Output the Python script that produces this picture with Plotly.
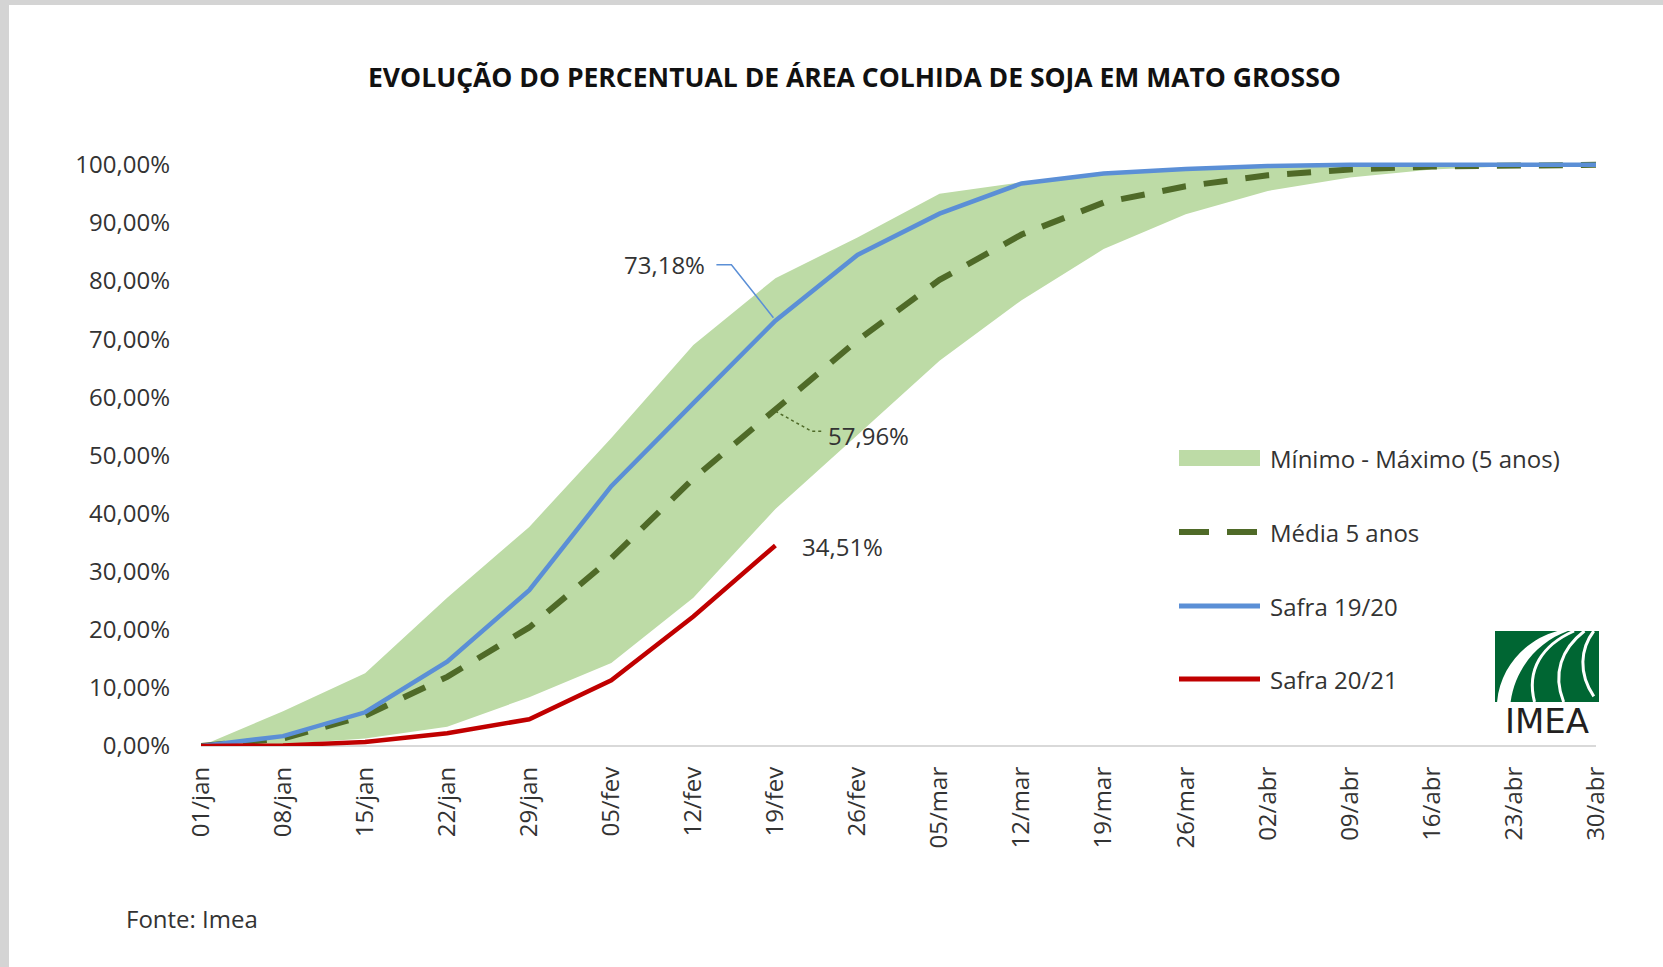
import plotly.graph_objects as go

# ---------------- data ----------------
categories = ["01/jan", "08/jan", "15/jan", "22/jan", "29/jan", "05/fev", "12/fev", "19/fev",
              "26/fev", "05/mar", "12/mar", "19/mar", "26/mar", "02/abr", "09/abr", "16/abr",
              "23/abr", "30/abr"]
minimo = [0, 0.3, 1.3, 3.3, 8.4, 14.3, 25.5, 40.8, 53.5, 66.3, 76.7, 85.5, 91.5, 95.5, 97.8, 99.2, 99.8, 100]
maximo = [0, 6.0, 12.5, 25.5, 37.7, 53.0, 69.0, 80.5, 87.5, 95.0, 97.0, 98.6, 99.5, 99.9, 100, 100, 100, 100]
media = [0, 1.3, 5.2, 11.9, 20.4, 32.3, 46.0, 57.96, 69.8, 80.2, 88.0, 93.5, 96.3, 98.2, 99.2, 99.7, 99.9, 100]
safra_1920 = [0, 1.7, 5.8, 14.5, 26.8, 44.7, 59.0, 73.18, 84.5, 91.6, 96.8, 98.5, 99.3, 99.8, 100, 100, 100, 100]
safra_2021 = [0, 0.1, 0.7, 2.2, 4.6, 11.3, 22.3, 34.51]
y_ticks = [0, 10, 20, 30, 40, 50, 60, 70, 80, 90, 100]

names = ["Mínimo - Máximo (5 anos)", "Média 5 anos", "Safra 19/20", "Safra 20/21"]
title_text = "EVOLUÇÃO DO PERCENTUAL DE ÁREA COLHIDA DE SOJA EM MATO GROSSO"
source_text = "Fonte: Imea"

# ---------------- style ----------------
C_BAND = "#bddba6"
C_MEAN = "#4f6a28"
C_BLUE = "#5b8fd6"
C_RED = "#c00000"
C_TEXT = "#333333"
FONT = "Open Sans"

W, H = 1663, 967
ML, MR, MT, MB = 201, 67, 159, 221
PW, PH = W - ML - MR, H - MT - MB


def px(xp):
    return (xp - ML) / PW


def py(yp):
    return (H - MB - yp) / PH


def fmt(v):
    return f"{v:.2f}%".replace(".", ",")


fig = go.Figure()
fig.add_trace(go.Scatter(x=categories, y=minimo, mode="lines", line=dict(width=0, color=C_BAND),
                         showlegend=False, hoverinfo="skip"))
fig.add_trace(go.Scatter(x=categories, y=maximo, mode="lines", line=dict(width=0, color=C_BAND),
                         fill="tonexty", fillcolor=C_BAND, name=names[0], showlegend=False))
fig.add_trace(go.Scatter(x=categories, y=media, mode="lines", name=names[1], showlegend=False,
                         line=dict(color=C_MEAN, width=6, dash="24px,18px")))
fig.add_trace(go.Scatter(x=categories, y=safra_1920, mode="lines", name=names[2], showlegend=False,
                         line=dict(color=C_BLUE, width=4.5)))
fig.add_trace(go.Scatter(x=categories[:len(safra_2021)], y=safra_2021, mode="lines", name=names[3],
                         showlegend=False, line=dict(color=C_RED, width=4.5)))

shapes = []
annotations = []

# page border (grey frame edges)
shapes.append(dict(type="rect", xref="paper", yref="paper", x0=px(0), x1=px(9), y0=py(H), y1=py(0),
                   fillcolor="#d4d4d4", line=dict(width=0), layer="below"))
shapes.append(dict(type="rect", xref="paper", yref="paper", x0=px(0), x1=px(W), y0=py(5), y1=py(0),
                   fillcolor="#d4d4d4", line=dict(width=0), layer="below"))

# custom legend
lx0, lx1, ltx = 1179, 1260, 1268
ly = [458, 532, 606, 679]
shapes.append(dict(type="rect", xref="paper", yref="paper", x0=px(lx0), x1=px(lx1),
                   y0=py(ly[0] + 8), y1=py(ly[0] - 8), fillcolor=C_BAND, line=dict(width=0)))
shapes.append(dict(type="line", xref="paper", yref="paper", x0=px(lx0), x1=px(lx0 + 30),
                   y0=py(ly[1]), y1=py(ly[1]), line=dict(color=C_MEAN, width=6)))
shapes.append(dict(type="line", xref="paper", yref="paper", x0=px(lx0 + 48), x1=px(lx0 + 78),
                   y0=py(ly[1]), y1=py(ly[1]), line=dict(color=C_MEAN, width=6)))
shapes.append(dict(type="line", xref="paper", yref="paper", x0=px(lx0), x1=px(lx1),
                   y0=py(ly[2]), y1=py(ly[2]), line=dict(color=C_BLUE, width=5)))
shapes.append(dict(type="line", xref="paper", yref="paper", x0=px(lx0), x1=px(lx1),
                   y0=py(ly[3]), y1=py(ly[3]), line=dict(color=C_RED, width=5)))
for name, yy in zip(names, ly):
    annotations.append(dict(text=name, xref="paper", yref="paper", x=px(ltx), y=py(yy),
                            xanchor="left", yanchor="middle", showarrow=False,
                            font=dict(family=FONT, size=24, color=C_TEXT)))

# data labels
i_last = len(safra_2021) - 1
annotations.append(dict(text=fmt(safra_1920[i_last]), x=categories[i_last], y=safra_1920[i_last],
                        xref="x", yref="y", xshift=-111, yshift=56, showarrow=False,
                        font=dict(family=FONT, size=24, color=C_TEXT)))
annotations.append(dict(text=fmt(media[i_last]), x=categories[i_last], y=media[i_last],
                        xref="x", yref="y", xshift=93, yshift=-26, showarrow=False,
                        font=dict(family=FONT, size=24, color=C_TEXT)))
annotations.append(dict(text=fmt(safra_2021[i_last]), x=categories[i_last], y=safra_2021[i_last],
                        xref="x", yref="y", xshift=67, yshift=-1, showarrow=False,
                        font=dict(family=FONT, size=24, color=C_TEXT)))
# leader lines
shapes.append(dict(type="path", xref="x", yref="y", xsizemode="pixel", ysizemode="pixel",
                   xanchor=i_last, yanchor=safra_1920[i_last],
                   path="M -59,56 L -44,56 L -2,3", line=dict(color=C_BLUE, width=1.5)))
shapes.append(dict(type="path", xref="x", yref="y", xsizemode="pixel", ysizemode="pixel",
                   xanchor=i_last, yanchor=media[i_last],
                   path="M 0,-2 L 36,-22 L 46,-22", line=dict(color=C_MEAN, width=1.5, dash="dot")))

# title & source
annotations.append(dict(text=f"<b>{title_text}</b>", xref="paper", yref="paper", x=px(854), y=py(77),
                        xanchor="center", yanchor="middle", showarrow=False,
                        font=dict(family=FONT, size=26.5, color="#111111")))
annotations.append(dict(text=source_text, xref="paper", yref="paper", x=px(124), y=py(918),
                        xanchor="left", yanchor="middle", showarrow=False,
                        font=dict(family=FONT, size=24, color=C_TEXT)))

# IMEA logo
bx0, by0, bw, bh = 1495, 631, 104, 71


def lp(u, v):
    return f"{px(bx0 + u * bw):.5f},{py(by0 + v * bh):.5f}"


shapes.append(dict(type="rect", xref="paper", yref="paper", x0=px(bx0), x1=px(bx0 + bw),
                   y0=py(by0 + bh), y1=py(by0), fillcolor="#006633", line=dict(width=0)))
# white curved band
shapes.append(dict(type="path", xref="paper", yref="paper",
                   path=f"M {lp(0.02,1.0)} C {lp(0.05,0.5)} {lp(0.3,0.12)} {lp(0.6,0.0)} "
                        f"L {lp(0.70,0.0)} C {lp(0.42,0.15)} {lp(0.2,0.5)} {lp(0.15,1.0)} Z",
                   fillcolor="white", line=dict(width=0)))
for p in [((0.38, 1.0), (0.30, 0.55), (0.45, 0.2), (0.76, 0.0)),
          ((0.66, 1.0), (0.55, 0.6), (0.64, 0.25), (0.86, 0.0)),
          ((0.95, 0.92), (0.80, 0.6), (0.82, 0.25), (0.95, 0.0))]:
    shapes.append(dict(type="path", xref="paper", yref="paper",
                       path=f"M {lp(*p[0])} C {lp(*p[1])} {lp(*p[2])} {lp(*p[3])}",
                       line=dict(color="white", width=3)))
annotations.append(dict(text="IMEA", xref="paper", yref="paper", x=px(bx0 + bw / 2), y=py(721),
                        xanchor="center", yanchor="middle", showarrow=False,
                        font=dict(family="DejaVu Sans", size=34, color="#231f20")))

fig.update_layout(
    width=W, height=H,
    margin=dict(l=ML, r=MR, t=MT, b=MB, pad=0),
    paper_bgcolor="white", plot_bgcolor="white",
    showlegend=False,
    shapes=shapes, annotations=annotations,
    font=dict(family=FONT, size=24, color=C_TEXT),
    xaxis=dict(type="category", categoryorder="array", categoryarray=categories,
               range=[0, len(categories) - 1], tickangle=-90, showgrid=False, zeroline=False,
               showline=False, ticks="", ticklabelstandoff=15,
               tickfont=dict(family=FONT, size=24, color=C_TEXT)),
    yaxis=dict(range=[0, 101], tickvals=y_ticks, ticktext=[fmt(v) for v in y_ticks],
               showgrid=False, zeroline=True, zerolinecolor="#d9d9d9", zerolinewidth=2,
               showline=False, ticks="", ticklabelstandoff=30,
               tickfont=dict(family=FONT, size=24, color=C_TEXT)),
)

fig.write_html("out.html", config={"displayModeBar": False},
               post_script="document.body.style.margin='0px';")
